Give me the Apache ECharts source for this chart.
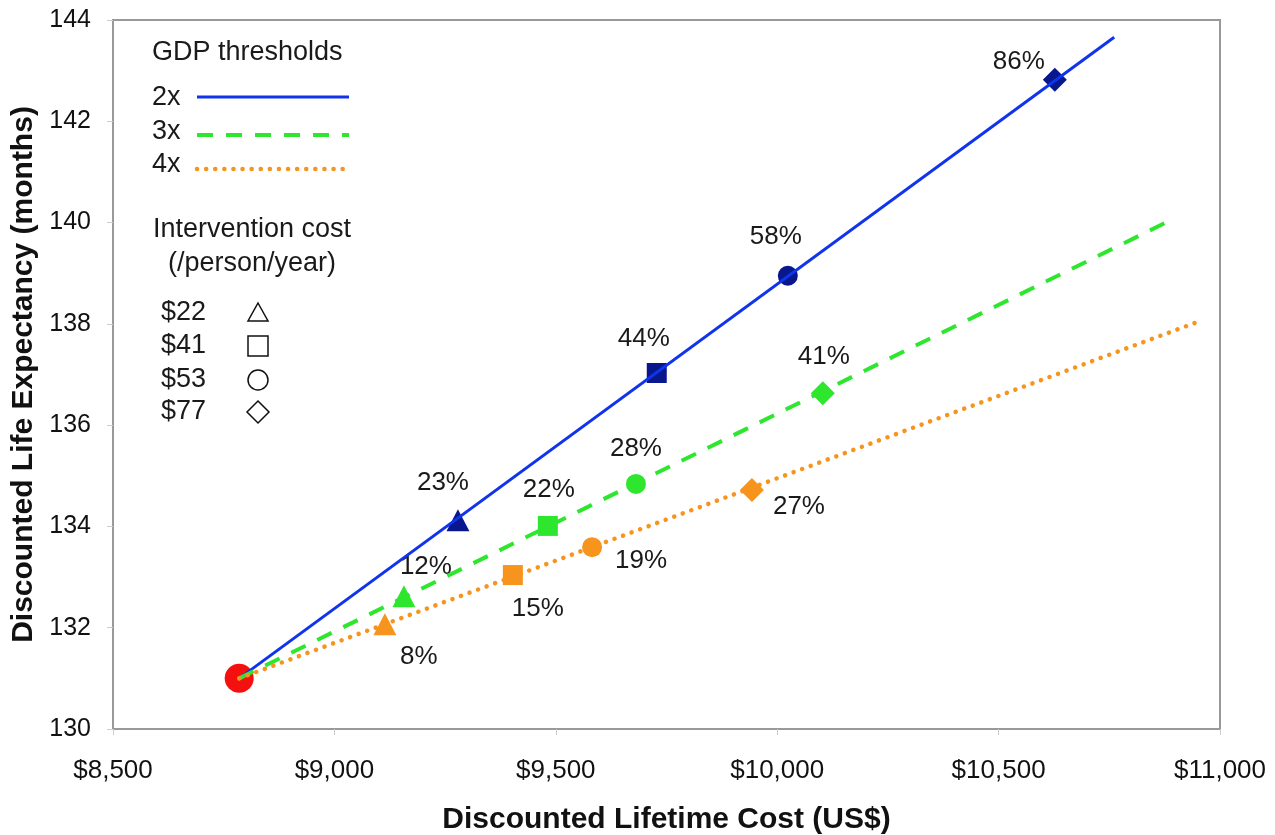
<!DOCTYPE html>
<html>
<head>
<meta charset="utf-8">
<script src="https://cdn.jsdelivr.net/npm/echarts@6/dist/echarts.min.js"></script>
<style>
html,body{margin:0;padding:0;background:#fff;}
#chart{width:1275px;height:835px;}
</style>
</head>
<body>
<div id="chart"></div>
<script>
// ---- data ----
const baseline = [8785, 131.0];
const xTicks = [8500, 9000, 9500, 10000, 10500, 11000];
const xTickLabels = ['$8,500', '$9,000', '$9,500', '$10,000', '$10,500', '$11,000'];
const yTicks = [130, 132, 134, 136, 138, 140, 142, 144];

const shapes = ['triangle', 'rect', 'circle', 'diamond'];
const costLevels = ['$22', '$41', '$53', '$77'];

const cost2x = [9279, 9728, 10024, 10627];
const life2x = [134.12, 137.03, 138.95, 142.82];
const pct2x = ['23%', '44%', '58%', '86%'];
const end2x = [10761, 143.66];

const cost3x = [9157, 9482, 9681, 10103];
const life3x = [132.62, 134.01, 134.84, 136.63];
const pct3x = ['12%', '22%', '28%', '41%'];
const end3x = [10894, 140.07];

const cost4x = [9114, 9403, 9582, 9943];
const life4x = [132.07, 133.04, 133.59, 134.72];
const pct4x = ['8%', '15%', '19%', '27%'];
const end4x = [10953, 138.05];

const thresholdNames = ['2x', '3x', '4x'];

// ---- styles ----
const FONT = 'Liberation Sans, Arial, sans-serif';
const lineColors = ['#1034ec', '#2ee62e', '#f7941d'];
const markerColors = ['#08188c', '#2ee62e', '#f7941d'];
const symSizes = {triangle: [23, 22], rect: 20, circle: 20, diamond: 24};

const labelOffsets = [
  [[-15, -38], [-13, -34], [-12, -39], [-36, -18]],
  [[22, -29], [1, -36], [0, -35], [1, -36]],
  [[34, 33], [25, 34], [49, 14], [47, 17]]
];

const costs = [cost2x, cost3x, cost4x];
const lifes = [life2x, life3x, life4x];
const pcts = [pct2x, pct3x, pct4x];
const ends = [end2x, end3x, end4x];
const lineTypes = [
  {type: 'solid', width: 3, cap: 'butt'},
  {type: [16, 13], width: 4, cap: 'butt'},
  {type: [0.1, 9], width: 4.5, cap: 'round'}
];

const series = [];
// baseline red point
series.push({
  type: 'scatter', z: 1,
  data: [baseline],
  symbol: 'circle', symbolSize: 29,
  itemStyle: {color: '#f51010', opacity: 1},
  silent: true
});
for (let t = 0; t < 3; t++) {
  series.push({
    type: 'scatter', z: 2,
    data: costs[t].map((c, i) => ({
      value: [c, lifes[t][i]],
      symbol: shapes[i],
      symbolSize: symSizes[shapes[i]],
      label: {offset: labelOffsets[t][i]}
    })),
    itemStyle: {color: markerColors[t], opacity: 1},
    label: {
      show: true, position: 'inside',
      formatter: (p) => pcts[t][p.dataIndex],
      fontSize: 26, fontFamily: FONT, color: '#1a1a1a', opacity: 1
    },
    silent: true
  });
  series.push({
    type: 'line', z: 3,
    data: [baseline, ends[t]],
    showSymbol: false, symbol: 'none',
    lineStyle: {color: lineColors[t], width: lineTypes[t].width, type: lineTypes[t].type, cap: lineTypes[t].cap, opacity: 1},
    silent: true
  });
}

// ---- legend (graphic) ----
const LF = '27px ' + FONT;
const legendX = 152;
const legendRowsY = [98, 132, 165];
const legendLineY = [97, 135, 169];
const graphic = [];
graphic.push({type: 'text', x: legendX, y: 53, style: {text: 'GDP thresholds', font: LF, fill: '#1a1a1a', textVerticalAlign: 'middle'}});
for (let t = 0; t < 3; t++) {
  graphic.push({type: 'text', x: legendX, y: legendRowsY[t], style: {text: thresholdNames[t], font: LF, fill: '#1a1a1a', textVerticalAlign: 'middle'}});
  graphic.push({type: 'line', shape: {x1: 197, y1: legendLineY[t], x2: 349, y2: legendLineY[t]},
    style: {stroke: lineColors[t], lineWidth: lineTypes[t].width, lineDash: t === 0 ? null : lineTypes[t].type, lineCap: lineTypes[t].cap}});
}
graphic.push({type: 'text', x: 252, y: 230, style: {text: 'Intervention cost', font: LF, fill: '#1a1a1a', textAlign: 'center', textVerticalAlign: 'middle'}});
graphic.push({type: 'text', x: 252, y: 264, style: {text: '(/person/year)', font: LF, fill: '#1a1a1a', textAlign: 'center', textVerticalAlign: 'middle'}});
const costRowsY = [313, 346, 380, 412];
const symX = 258;
for (let i = 0; i < 4; i++) {
  const y = costRowsY[i];
  graphic.push({type: 'text', x: 161, y: y, style: {text: costLevels[i], font: LF, fill: '#1a1a1a', textVerticalAlign: 'middle'}});
  const st = {fill: 'none', stroke: '#111', lineWidth: 1.5};
  if (shapes[i] === 'triangle') {
    graphic.push({type: 'polygon', shape: {points: [[symX, y - 10], [symX + 10, y + 8], [symX - 10, y + 8]]}, style: st});
  } else if (shapes[i] === 'rect') {
    graphic.push({type: 'rect', shape: {x: symX - 10, y: y - 10, width: 20, height: 20}, style: st});
  } else if (shapes[i] === 'circle') {
    graphic.push({type: 'circle', shape: {cx: symX, cy: y, r: 10}, style: st});
  } else {
    graphic.push({type: 'polygon', shape: {points: [[symX, y - 11], [symX + 11, y], [symX, y + 11], [symX - 11, y]]}, style: st});
  }
}

const chart = echarts.init(document.getElementById('chart'), null, {renderer: 'canvas'});
chart.setOption({
  backgroundColor: '#fff',
  animation: false,
  grid: {left: 113, right: 55, top: 20, bottom: 106, outerBoundsMode: 'none', containLabel: false,
    show: true, borderColor: '#999', borderWidth: 2, backgroundColor: '#fff'},
  xAxis: {
    type: 'value', min: xTicks[0], max: xTicks[xTicks.length - 1], interval: 500,
    name: 'Discounted Lifetime Cost (US$)', nameLocation: 'middle', nameGap: 76,
    nameTextStyle: {fontSize: 30, fontWeight: 'bold', fontFamily: FONT, color: '#111'},
    axisLine: {show: true, lineStyle: {color: '#999', width: 2}},
    axisTick: {show: true, length: 6, lineStyle: {color: '#ccc'}},
    splitLine: {show: false},
    axisLabel: {
      margin: 29, fontSize: 26, fontFamily: FONT, color: '#111',
      formatter: (v) => xTickLabels[xTicks.indexOf(v)]
    }
  },
  yAxis: {
    type: 'value', min: yTicks[0], max: yTicks[yTicks.length - 1], interval: 2,
    name: 'Discounted Life Expectancy (months)', nameLocation: 'middle', nameGap: 66,
    nameTextStyle: {fontSize: 30, fontWeight: 'bold', fontFamily: FONT, color: '#111'},
    axisLine: {show: true, lineStyle: {color: '#999', width: 2}},
    axisTick: {show: true, length: 6, lineStyle: {color: '#ccc'}},
    splitLine: {show: false},
    axisLabel: {margin: 22, fontSize: 25, fontFamily: FONT, color: '#111'}
  },
  series: series,
  graphic: graphic
});
</script>
</body>
</html>
